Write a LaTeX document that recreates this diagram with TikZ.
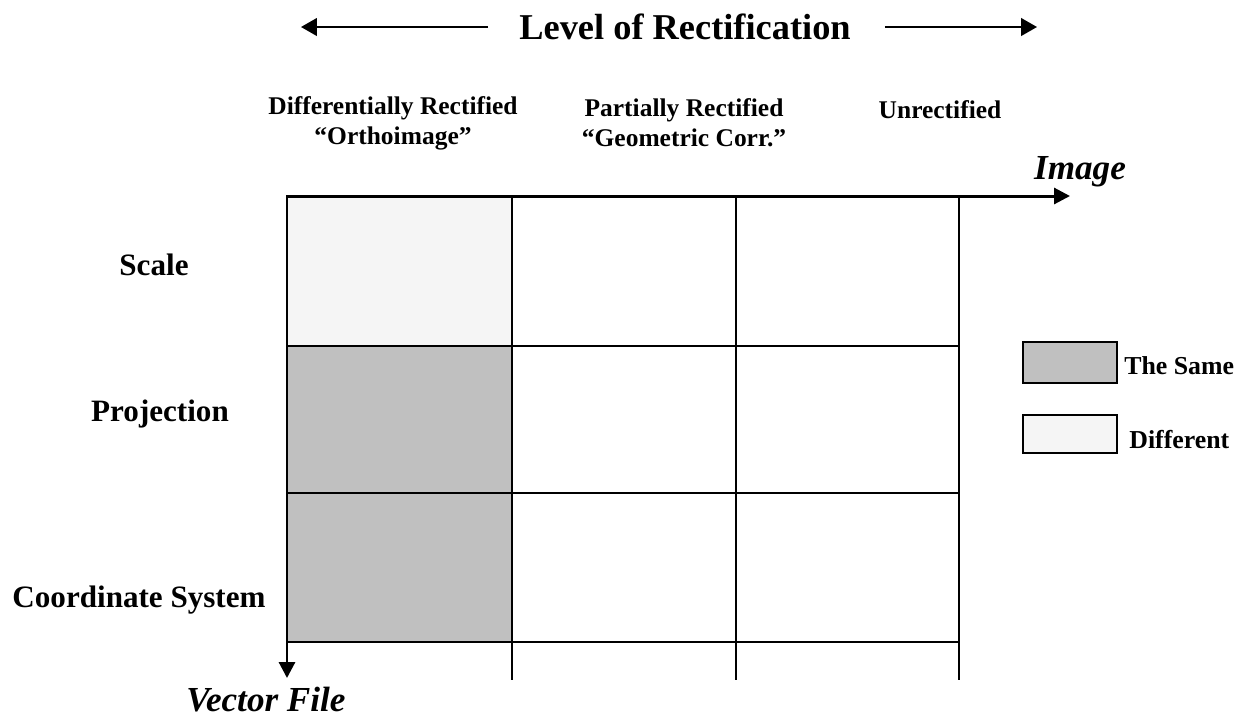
\documentclass[tikz,border=0pt]{standalone}
\usepackage{fontspec}
\setmainfont{Liberation Serif}
\usepackage{tikz}
\usetikzlibrary{arrows.meta, positioning}
\definecolor{samegray}{HTML}{C0C0C0}
\definecolor{diffgray}{HTML}{F5F5F5}
\tikzset{gridline/.style={draw=black, line width=0.8pt},
    axisline/.style={draw=black, line width=1.7pt, -{Triangle[length=9pt, width=9pt]}},
    hdr/.style={font=\fontsize{14.5}{17}\selectfont\bfseries, align=center, inner sep=0pt},
    rowlbl/.style={font=\fontsize{17.7}{20}\selectfont\bfseries, inner sep=0pt},
    axlbl/.style={font=\fontsize{20}{24}\selectfont\bfseries\itshape, inner sep=0pt},
    legtxt/.style={font=\fontsize{14.7}{17}\selectfont\bfseries, inner sep=0pt, anchor=west}}

\begin{document}
\begin{tikzpicture}[x=0.02cm, y=-0.02cm]
                \useasboundingbox (0,0) rectangle (1246,725);

                % title and its two arrows
                \node[font=\fontsize{20.7}{25}\selectfont\bfseries, inner sep=0pt] (lvltitle) at (685,27) {Level of Rectification};
                \coordinate (tleft) at (301,27);
                \coordinate (tright) at (1037,27);
                \draw[line width=1.1pt, -{Triangle[length=9pt, width=10pt]}] (lvltitle.west) ++(-31,0) -- (tleft);
                \draw[line width=1.1pt, -{Triangle[length=9pt, width=10pt]}] (lvltitle.east) ++(34,0) -- (tright);

                % column heads
                \node[hdr] (diffhead) at (393,123) {Differentially Rectified\\``Orthoimage''};
                \node[hdr] (parthead) at (684,123) {Partially Rectified\\``Geometric Corr.''};
                \node[hdr] (unrecthead) at (940,110) {Unrectified};

                % cells
                \filldraw[fill=diffgray, gridline] (287,196) rectangle (512,346);
                \filldraw[fill=samegray, gridline] (287,346) rectangle (512,493);
                \filldraw[fill=samegray, gridline] (287,493) rectangle (512,642);

                \draw[gridline] (512,346) -- (959,346);
                \draw[gridline] (512,493) -- (959,493);
                \draw[gridline] (287,642) -- (959,642);
                \draw[gridline] (512,196) -- (512,680);
                \draw[gridline] (736,196) -- (736,680);
                \draw[gridline] (959,196) -- (959,680);

                % axes
                \coordinate (o) at (287,196);
                \coordinate (imgend) at (1070,196);
                \coordinate (vecend) at (287,678);
                \draw[axisline] (o) -- (imgend);
                \draw[axisline] (o) -- (vecend);
                \node[axlbl] (imagelbl) at (1080,172) {Image};
                \node[axlbl] (vectorlbl) at (266,700) {Vector File};

                % row labels
                \node[rowlbl] (scalelbl) at (154,265) {Scale};
                \node[rowlbl] (projlbl) at (160,414) {Projection};
                \node[rowlbl] (coordlbl) at (139,600) {Coordinate System};

                % legend
                \filldraw[fill=samegray, draw=black, line width=1pt] (1023,342) rectangle (1117,383);
                \coordinate (samebox) at (1117,366);
                \node[legtxt, right=7 of samebox] (sametxt) {The Same};
                \filldraw[fill=diffgray, draw=black, line width=1pt] (1023,415) rectangle (1117,453);
                \coordinate (diffbox) at (1117,440);
                \node[legtxt, right=12 of diffbox] (difftxt) {Different};
\end{tikzpicture}
\end{document}
